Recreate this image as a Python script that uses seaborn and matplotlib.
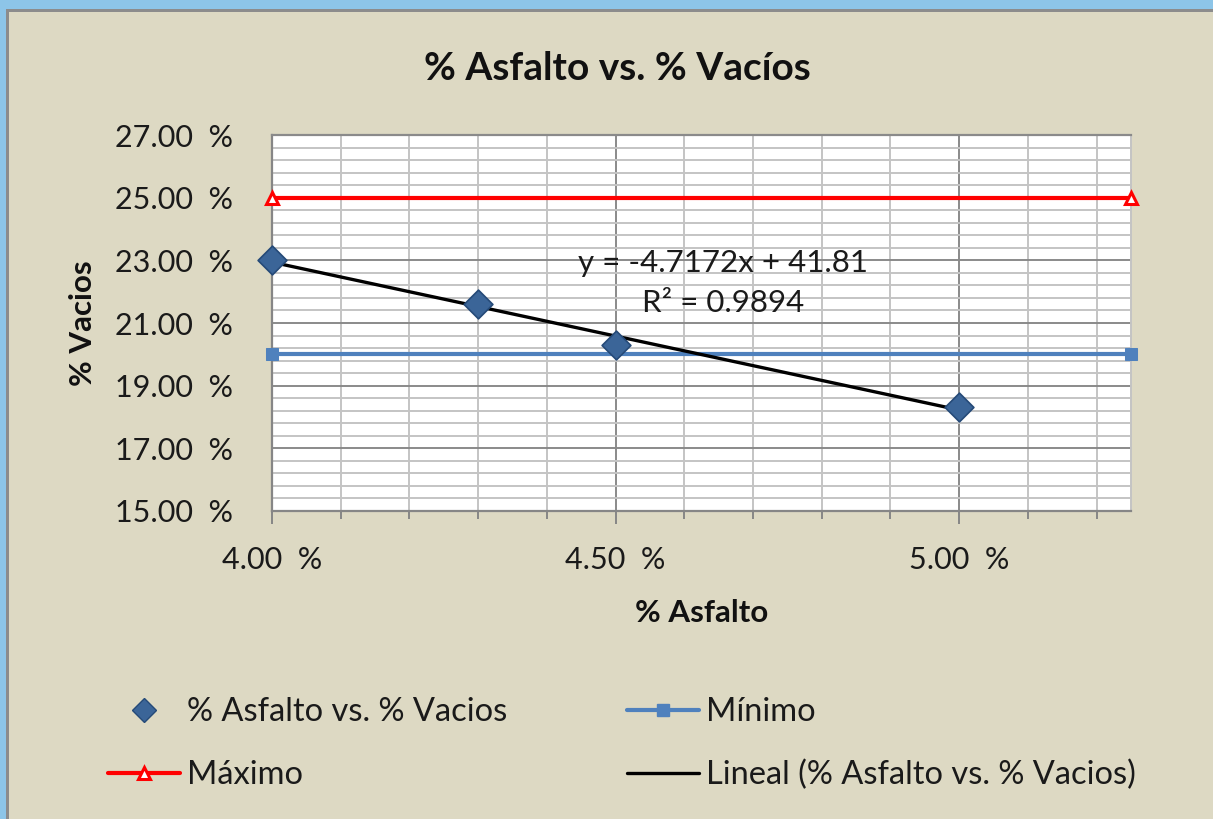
import numpy as np
import pandas as pd
import seaborn as sns
import matplotlib.pyplot as plt
from matplotlib.patches import Rectangle
from matplotlib.lines import Line2D
from matplotlib.ticker import FixedLocator, FuncFormatter

# Ensayo: porcentaje de asfalto contra porcentaje de vacíos
asfalto = [4.0, 4.3, 4.5, 5.0]
vacios = [23.02, 21.62, 20.30, 18.33]

# Límites de especificación
lim_x = [4.0, 5.25]
minimo = [20.0, 20.0]
maximo = [25.0, 25.0]

# Ajuste lineal reportado
pendiente = -4.7172
intercepto = 41.81
r2 = 0.9894

BG = "#DDD9C3"
sns.set_theme(style="white")
plt.rcParams["font.family"] = ["Lato", "DejaVu Sans"]

fig = plt.figure(figsize=(12.13, 8.19), dpi=100, facecolor=BG)

# marco de ventana
fig.patches.append(Rectangle((0, 1 - 9 / 819), 1, 9 / 819, transform=fig.transFigure,
                             facecolor="#8DC5E8", edgecolor="none", zorder=0))
fig.patches.append(Rectangle((0, 1 - 12 / 819), 1, 3 / 819, transform=fig.transFigure,
                             facecolor="#8C8C8C", edgecolor="none", zorder=0))
fig.patches.append(Rectangle((0, 0), 6 / 1213, 1, transform=fig.transFigure,
                             facecolor="#8DC5E8", edgecolor="none", zorder=0))
fig.patches.append(Rectangle((6 / 1213, 0), 3 / 1213, 1 - 9 / 819, transform=fig.transFigure,
                             facecolor="#8C8C8C", edgecolor="none", zorder=0))

ax = fig.add_axes([272 / 1213, 1 - 511 / 819, 859 / 1213, 376 / 819])
ax.set_facecolor("white")

ax.set_xlim(4.0, 5.25)
ax.set_ylim(15, 27)
ax.xaxis.set_major_locator(FixedLocator([4.0, 4.5, 5.0]))
ax.xaxis.set_minor_locator(FixedLocator(np.round(np.arange(4.0, 5.25, 0.1), 2)))
ax.yaxis.set_major_locator(FixedLocator(np.arange(15, 27.1, 2)))
ax.yaxis.set_minor_locator(FixedLocator(np.round(np.arange(15, 27.01, 0.4), 2)))
ax.xaxis.set_major_formatter(FuncFormatter(lambda v, p: f"{v:.2f}  %"))
ax.yaxis.set_major_formatter(FuncFormatter(lambda v, p: f"{v:.2f}  %"))

ax.grid(which="minor", color="#C4C4C4", linewidth=1.4, zorder=0)
ax.grid(which="major", color="#8A8A8A", linewidth=1.4, zorder=0)
ax.set_axisbelow(True)

ax.spines["right"].set_color("#C4C4C4")
ax.spines["right"].set_linewidth(1.4)
ax.spines["top"].set_color("#8A8A8A")
ax.spines["top"].set_linewidth(1.6)
for side in ["left", "bottom"]:
    ax.spines[side].set_color("#868686")
    ax.spines[side].set_linewidth(1.6)

ax.tick_params(axis="x", which="major", direction="out", length=9, width=1.4,
               color="#868686", bottom=True, labelsize=22, pad=16, labelcolor="#1a1a1a")
ax.tick_params(axis="x", which="minor", direction="out", length=6, width=1.4,
               color="#868686", bottom=True)
ax.tick_params(axis="y", which="both", left=False, labelsize=22, pad=22, labelcolor="#1a1a1a")

# límites
sns.lineplot(x=lim_x, y=maximo, ax=ax, color="#FF0000", linewidth=3, marker="^",
             markersize=8, markerfacecolor="white", markeredgecolor="#FF0000",
             markeredgewidth=2.2, zorder=3, clip_on=False)
sns.lineplot(x=lim_x, y=minimo, ax=ax, color="#4F81BD", linewidth=3, marker="s",
             markersize=8, markeredgecolor="#4F81BD", zorder=3, clip_on=False)

# línea de tendencia
tx = np.array([min(asfalto), max(asfalto)])
ax.plot(tx, pendiente * tx + intercepto, color="black", linewidth=2.4, zorder=4)

# datos
sns.scatterplot(x=asfalto, y=vacios, ax=ax, marker="D", s=215, color="#3B6598",
                edgecolor="#254A78", linewidth=1.2, zorder=5, clip_on=False)

ax.text(4.656, 22.9, f"y = {pendiente}x + {intercepto}", ha="center", va="center",
        fontsize=22.5, color="#1a1a1a", zorder=6)
ax.text(4.656, 21.64, f"R² = {r2}", ha="center", va="center",
        fontsize=22.5, color="#1a1a1a", zorder=6)

fig.text(617 / 1213, 1 - 68 / 819, "% Asfalto vs. % Vacíos", ha="center", va="center",
         fontsize=28, fontweight="bold", color="#111111")
ax.set_xlabel("% Asfalto", fontsize=22.5, fontweight="bold", color="#111111")
ax.set_ylabel("% Vacios", fontsize=22.5, fontweight="bold", color="#111111")
ax.xaxis.set_label_coords(0.5, -0.233)
ax.yaxis.set_label_coords(-0.204, 0.5)

handles = [
    Line2D([], [], linestyle="none", marker="D", markersize=12, markerfacecolor="#3B6598",
           markeredgecolor="#254A78"),
    Line2D([], [], color="#FF0000", linewidth=3, marker="^", markersize=8,
           markerfacecolor="white", markeredgecolor="#FF0000", markeredgewidth=2.2),
    Line2D([], [], color="#4F81BD", linewidth=3, marker="s", markersize=8),
    Line2D([], [], color="black", linewidth=2.4),
]
labels = ["% Asfalto vs. % Vacios", "Máximo", "Mínimo", "Lineal (% Asfalto vs. % Vacios)"]
fig.legend(handles, labels, ncol=2, loc="upper left", bbox_to_anchor=(79 / 1213, 1 - 668 / 819),
           frameon=False, fontsize=23.5, handlelength=2.2, handletextpad=0.22,
           columnspacing=3.65, labelspacing=1.0, labelcolor="#1a1a1a")

fig.savefig("out.png", dpi=100, facecolor=BG)
